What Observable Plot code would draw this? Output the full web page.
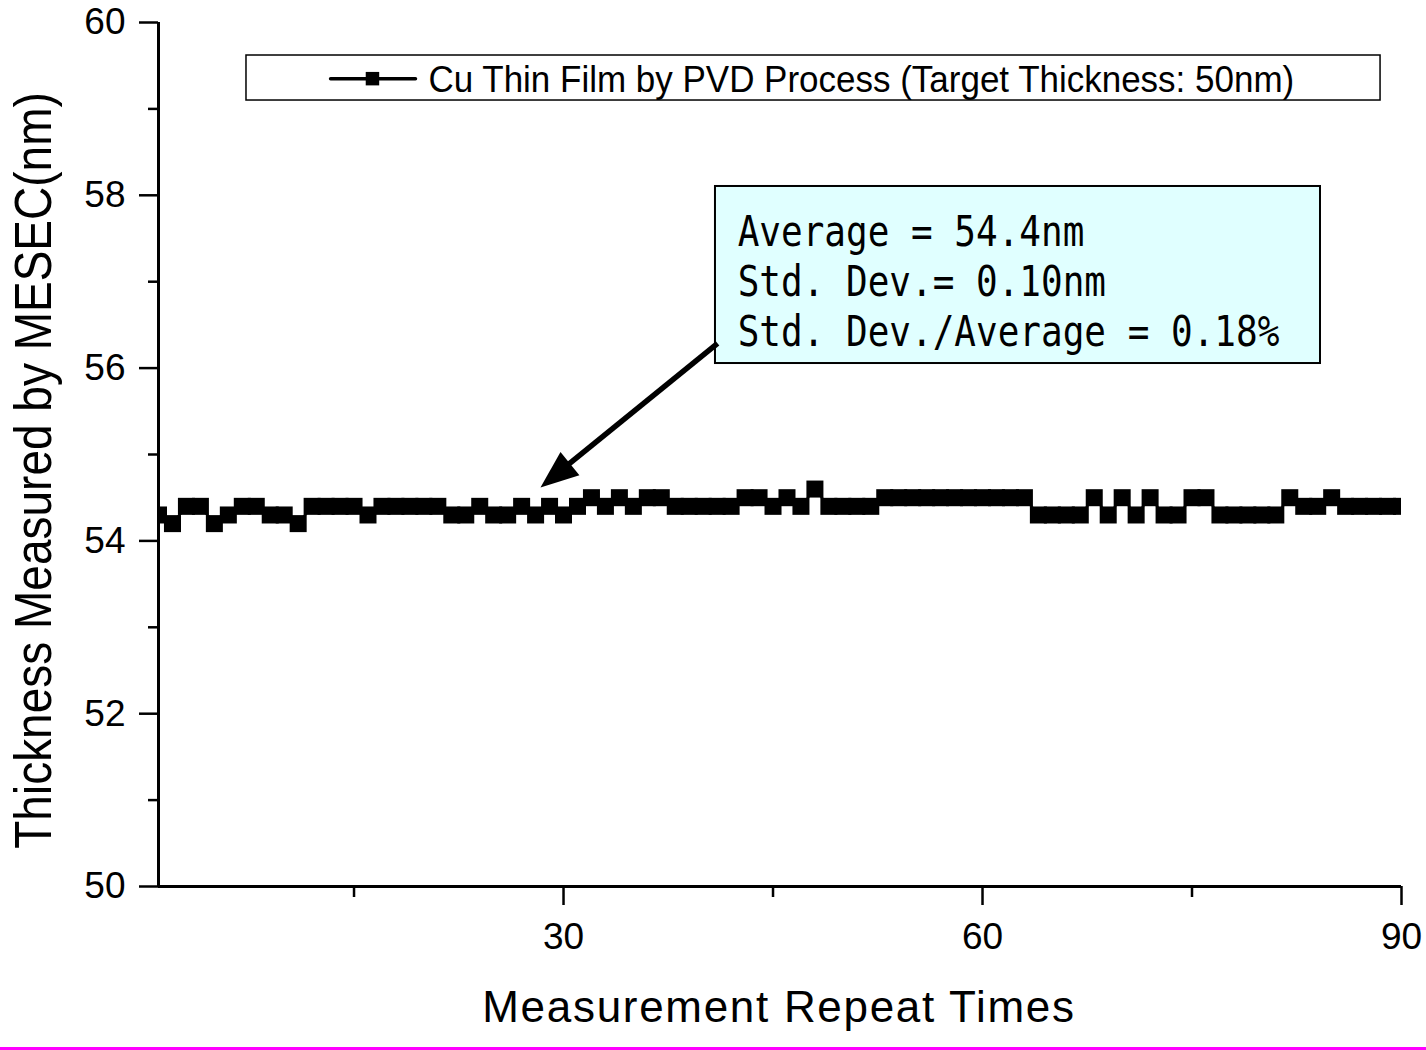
<!DOCTYPE html>
<html>
<head>
<meta charset="utf-8">
<script src="https://cdn.jsdelivr.net/npm/d3@7"></script>
<script src="https://cdn.jsdelivr.net/npm/@observablehq/plot@0.6"></script>
<style>
  body { margin: 0; background: #fff; }
  #chart svg { display: block; }
  #bottomline { width: 1426px; height: 3px; background: #ff00ff; }
  .xtitle text { letter-spacing: 1.7px; }
</style>
</head>
<body>
<div id="chart"></div>
<div id="bottomline"></div>
<script>
// Thickness (nm) for each measurement repeat 1..90
const thickness = [
  54.3, 54.2, 54.4, 54.4, 54.2, 54.3, 54.4, 54.4, 54.3, 54.3,
  54.2, 54.4, 54.4, 54.4, 54.4, 54.3, 54.4, 54.4, 54.4, 54.4,
  54.4, 54.3, 54.3, 54.4, 54.3, 54.3, 54.4, 54.3, 54.4, 54.3,
  54.4, 54.5, 54.4, 54.5, 54.4, 54.5, 54.5, 54.4, 54.4, 54.4,
  54.4, 54.4, 54.5, 54.5, 54.4, 54.5, 54.4, 54.6, 54.4, 54.4,
  54.4, 54.4, 54.5, 54.5, 54.5, 54.5, 54.5, 54.5, 54.5, 54.5,
  54.5, 54.5, 54.5, 54.3, 54.3, 54.3, 54.3, 54.5, 54.3, 54.5,
  54.3, 54.5, 54.3, 54.3, 54.5, 54.5, 54.3, 54.3, 54.3, 54.3,
  54.3, 54.5, 54.4, 54.4, 54.5, 54.4, 54.4, 54.4, 54.4, 54.4
];
const yMajorTicks = [50, 52, 54, 56, 58, 60];
const yMinorTicks = [51, 53, 55, 57, 59];
const xMajorTicks = [30, 60, 90];
const xMinorTicks = [15, 45, 75];
const legendLabel = "Cu Thin Film by PVD Process (Target Thickness: 50nm)";
const infoLines = ["Average = 54.4nm", "Std. Dev.= 0.10nm", "Std. Dev./Average = 0.18%"];
const xTitle = "Measurement Repeat Times";
const yTitle = "Thickness Measured by MESEC(nm)";

const data = thickness.map((t, i) => ({run: i + 1, t}));

// filled arrow head (tip at origin), pointing down-left
const ux = -0.776, uy = 0.631, L = 38, hw = 15;
const headSymbol = {
  draw(ctx) {
    const bx = -ux * L, by = -uy * L, px = -uy, py = ux;
    ctx.moveTo(0, 0);
    ctx.lineTo(bx + px * hw, by + py * hw);
    ctx.lineTo(bx - px * hw, by - py * hw);
    ctx.closePath();
  }
};

const infoY = [57.579, 56.998, 56.420];

const chart = Plot.plot({
  width: 1426,
  height: 1047,
  marginLeft: 158,
  marginRight: 25,
  marginTop: 22,
  marginBottom: 161,
  style: {fontFamily: "'Liberation Sans', Arial, sans-serif", background: "#fff", color: "#000"},
  x: {domain: [1, 90]},
  y: {domain: [50, 60]},
  marks: [
    // legend box
    Plot.rect([0], {x1: 7.30, x2: 88.50, y1: 59.097, y2: 59.618, fill: "#fff", stroke: "#000", strokeWidth: 1.5}),
    Plot.line([[13.32, 59.35], [19.40, 59.35]], {stroke: "#000", strokeWidth: 3.5}),
    Plot.dot([[16.32, 59.35]], {symbol: "square", r: 7.6, fill: "#000", stroke: "none"}),
    Plot.text([legendLabel], {x: 20.33, y: 59.33, text: d => d, textAnchor: "start", fontSize: 35, className: "legendtext"}),
    // info box
    Plot.rect([0], {x1: 40.88, x2: 84.20, y1: 56.053, y2: 58.102, fill: "#e0ffff", stroke: "#000", strokeWidth: 2}),
    Plot.text(infoLines, {x: 42.47, y: (d, i) => infoY[i], text: d => d, textAnchor: "start", fontSize: 36, fontFamily: "'DejaVu Sans Mono', monospace", className: "infotext"}),
    // arrow
    Plot.link([0], {x1: 41.03, y1: 56.285, x2: 30.0, y2: 54.84, stroke: "#000", strokeWidth: 5.5}),
    Plot.dot([0], {x: 28.35, y: 54.618, symbol: headSymbol, r: 10, fill: "#000", stroke: "none"}),
    // data
    Plot.line(data, {x: "run", y: "t", stroke: "#000", strokeWidth: 2.5, clip: true}),
    Plot.dot(data, {x: "run", y: "t", symbol: "square", r: 9.6, fill: "#000", stroke: "none", clip: true}),
    // axes
    Plot.axisY(yMajorTicks, {tickSize: 19, tickPadding: 14, fontSize: 37, strokeWidth: 2.5, label: null, tickFormat: d => d}),
    Plot.axisY(yMinorTicks, {tickSize: 10, strokeWidth: 2.5, label: null, tickFormat: () => ""}),
    Plot.axisX(xMajorTicks, {tickSize: 19, tickPadding: 17, fontSize: 37, strokeWidth: 2.5, label: null, tickFormat: d => d}),
    Plot.axisX(xMinorTicks, {tickSize: 11, strokeWidth: 2.5, label: null, tickFormat: () => ""}),
    Plot.ruleX([1], {stroke: "#000", strokeWidth: 3}),
    Plot.ruleY([50], {stroke: "#000", strokeWidth: 3}),
    // titles
    Plot.text([yTitle], {frameAnchor: "left", textAnchor: "middle", rotate: -90, dx: -124, dy: 16, fontSize: 46, text: d => d, className: "ytitle"}),
    Plot.text([xTitle], {frameAnchor: "bottom", textAnchor: "middle", dy: 135.6, dx: -1, fontSize: 44, text: d => d, className: "xtitle"})
  ]
});
document.getElementById("chart").appendChild(chart);

// stretch glyphs vertically to mimic the taller reference fonts
function stretch(selector, sy) {
  d3.select(chart).selectAll(selector).each(function () {
    const t = this.getAttribute("transform") || "";
    this.setAttribute("transform", t + ` scale(1,${sy})`);
  });
}
stretch(".infotext text", 1.2);
stretch(".ytitle text", 1.12);
stretch(".legendtext text", 1.08);
</script>
</body>
</html>
